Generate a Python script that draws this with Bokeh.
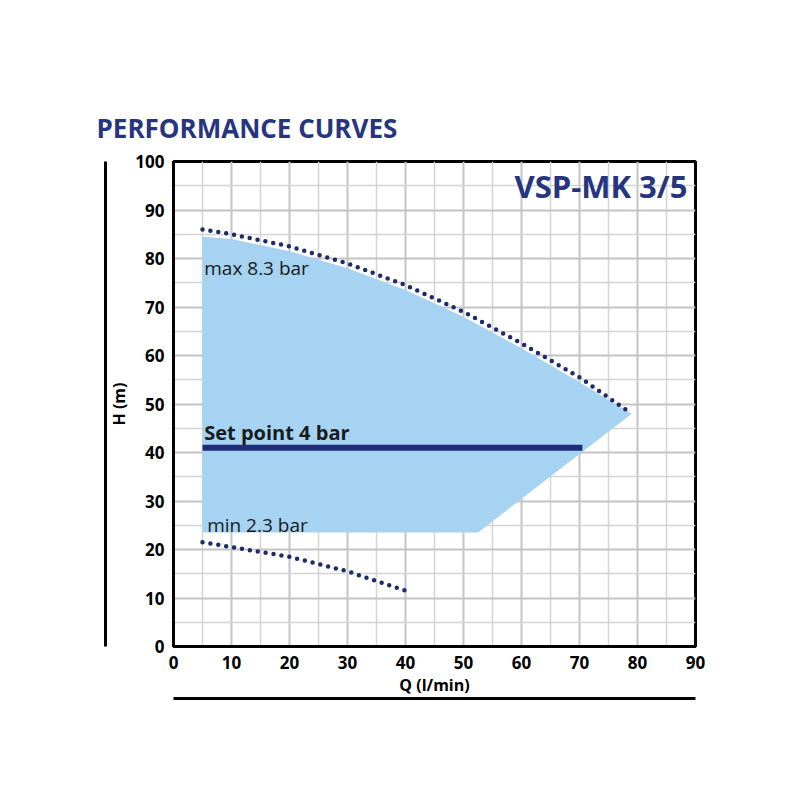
from bokeh.plotting import figure
from bokeh.models import LinearAxis, Label, FixedTicker
from bokeh.embed import file_html
from bokeh.resources import INLINE

max_q = [5, 10, 20, 30, 40, 50, 60, 70, 79]
max_h = [86, 85, 82.5, 79, 74.5, 69, 62.5, 55.5, 48]
min_q = [5, 10, 20, 30, 40]
min_h = [21.5, 20.5, 18.5, 15.5, 11.5]
shade_q = [5, 10, 20, 30, 40, 50, 60, 70, 79, 52.5, 5]
shade_h = [84.5, 84, 81.5, 78, 73.5, 68, 61.5, 54.5, 48, 23.5, 23.5]
set_q = [5, 70.5]
set_h = [41, 41]
ticks = list(range(0, 100, 10))
yticks = list(range(0, 110, 10))

NAVY = "#27357f"
DOT = "#1f2a6b"
FONT = "'Liberation Sans Narrow', 'Open Sans', sans-serif"

p = figure(width=780, height=720, x_range=(0, 90), y_range=(0, 100),
           output_backend="svg", toolbar_location=None,
           min_border_left=173, min_border_right=85, min_border_top=161, min_border_bottom=74,
           x_axis_location=None, y_axis_location=None,
           title="PERFORMANCE CURVES")
p.title.text_font = FONT
p.title.text_font_size = "26px"
p.title.text_font_style = "bold"
p.title.text_color = NAVY
p.title.align = "left"
p.title.offset = -77
p.title.standoff = 32
p.outline_line_color = "black"
p.outline_line_width = 3

xa = LinearAxis(ticker=FixedTicker(ticks=ticks), axis_label="Q (l/min)")
ya = LinearAxis(ticker=FixedTicker(ticks=yticks), axis_label="H (m)")
for a in (xa, ya):
    a.major_tick_line_color = None
    a.minor_tick_line_color = None
    a.axis_line_width = 3
    a.major_label_text_font = FONT
    a.major_label_text_font_style = "bold"
    a.major_label_text_font_size = "17px"
    a.major_label_text_color = "black"
    a.axis_label_text_font = FONT
    a.axis_label_text_font_style = "bold"
    a.axis_label_text_font_size = "16px"
    a.axis_label_text_color = "black"
    a.axis_label_standoff = 2
    a.major_label_standoff = 3
p.add_layout(xa, "below")
p.add_layout(ya, "left")

for loc in ("below", "left"):
    e = LinearAxis(ticker=FixedTicker(ticks=[]), axis_line_width=3)
    e.major_tick_line_color = None
    e.minor_tick_line_color = None
    e.major_label_text_font_size = "0px"
    p.add_layout(e, loc)

p.xgrid.ticker = FixedTicker(ticks=ticks, minor_ticks=[v + 5 for v in ticks])
p.ygrid.ticker = FixedTicker(ticks=yticks, minor_ticks=[v + 5 for v in yticks])
for g in (p.xgrid, p.ygrid):
    g.grid_line_color = "#c4c4c4"
    g.grid_line_width = 2
    g.grid_line_alpha = 1
    g.minor_grid_line_color = "#d4d4d4"
    g.minor_grid_line_width = 1.5

p.patch(shade_q, shade_h, fill_color="#a5d3f1", line_color=None)
p.line(set_q, set_h, line_color="#1f2d7a", line_width=6)
p.line(max_q, max_h, line_color=DOT, line_width=4.5, line_dash="0 8", line_cap="round")
p.line(min_q, min_h, line_color=DOT, line_width=4.5, line_dash="0 8", line_cap="round")

def lab(x, y, t, size, style="normal", color="#1a1a1a", align="left", font=FONT):
    p.add_layout(Label(x=x, y=y, text=t, text_font_size=size, text_font_style=style,
                       text_color=color, text_align=align, text_baseline="middle",
                       text_font=font))

lab(88.6, 95, "VSP-MK 3/5", "31px", "bold", NAVY, "right")
lab(5.3, 78, "max 8.3 bar", "19px")
lab(5.3, 44.2, "Set point 4 bar", "20px", "bold")
lab(5.8, 25, "min 2.3 bar", "19px")

open("out.html", "w").write(file_html(p, INLINE))
